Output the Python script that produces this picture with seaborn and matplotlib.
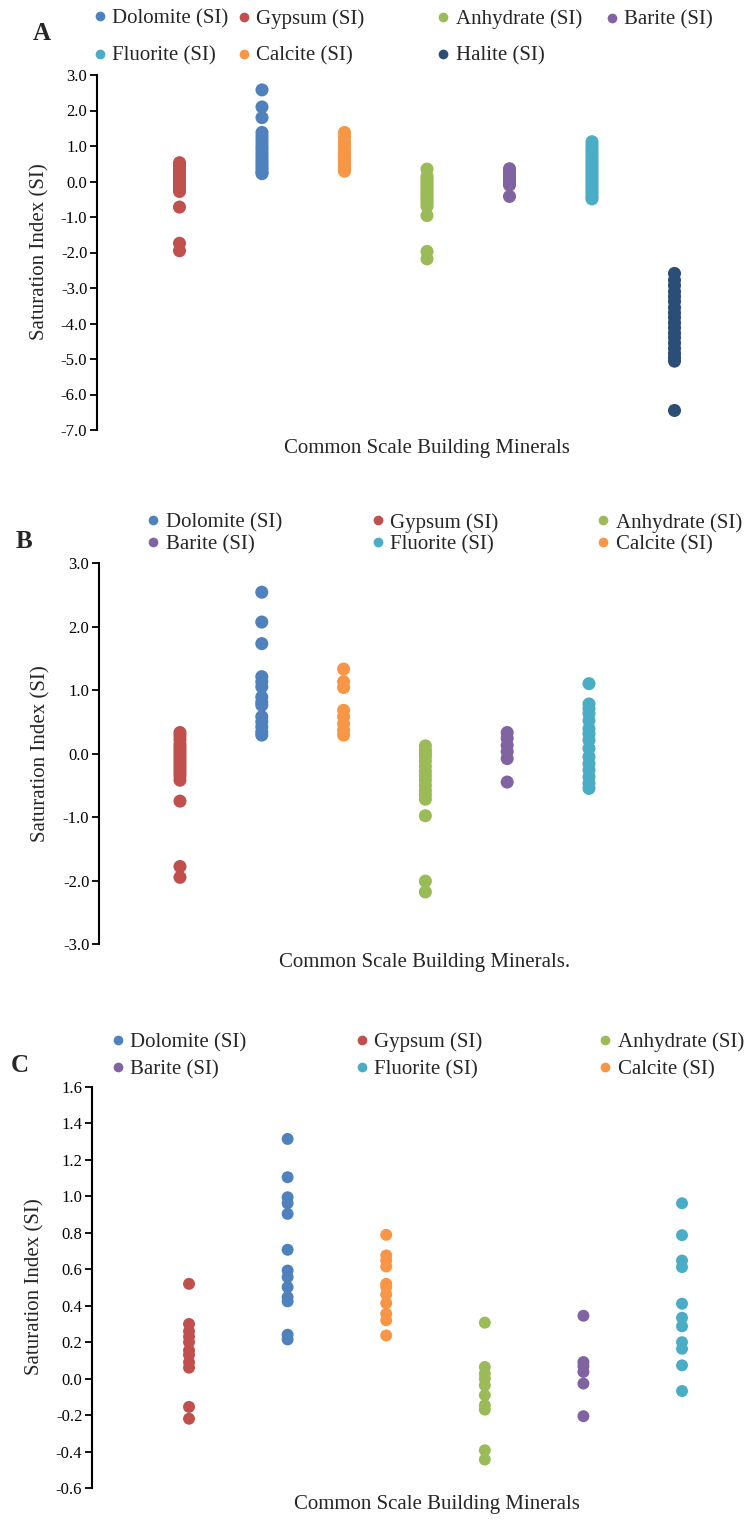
import numpy as np
import pandas as pd
import seaborn as sns
import matplotlib.pyplot as plt
from matplotlib.lines import Line2D
from matplotlib.ticker import FormatStrFormatter

sns.set_theme(style="ticks")
plt.rcParams['font.family'] = ['Liberation Serif', 'DejaVu Serif']
plt.rcParams['axes.unicode_minus'] = False

W, H = 750, 1520
DPI = 100

colors = {
    "Dolomite": "#4F81BD",
    "Gypsum": "#C0504D",
    "Anhydrate": "#9BBB59",
    "Barite": "#8064A2",
    "Fluorite": "#4BACC6",
    "Calcite": "#F79646",
    "Halite": "#2C4D75",
}

# x-axis order of the minerals
order_a = ["Gypsum", "Dolomite", "Calcite", "Anhydrate", "Barite", "Fluorite", "Halite"]
order_bc = ["Gypsum", "Dolomite", "Calcite", "Anhydrate", "Barite", "Fluorite"]

# ---- Panel A: saturation indices ----
a_gypsum = [0.53, 0.46, 0.40, 0.33, 0.27, 0.20, 0.14, 0.08, 0.02, -0.04, -0.10,
            -0.16, -0.22, -0.28, -0.72, -1.74, -1.95]
a_dolomite = [2.58, 2.10, 1.80, 1.38, 1.28, 1.18, 1.08, 0.98, 0.90, 0.80, 0.72,
              0.63, 0.55, 0.47, 0.40, 0.33, 0.26, 0.22]
a_calcite = [1.38, 1.25, 1.12, 1.02, 0.90, 0.80, 0.70, 0.62, 0.55, 0.48, 0.41,
             0.35, 0.29]
a_anhydrate = [0.35, 0.15, 0.08, 0.01, -0.06, -0.13, -0.20, -0.27, -0.34, -0.41,
               -0.48, -0.55, -0.62, -0.70, -0.96, -1.97, -2.18]
a_barite = [0.36, 0.28, 0.20, 0.12, 0.04, -0.04, -0.10, -0.42]
a_fluorite = [1.12, 1.02, 0.93, 0.85, 0.76, 0.68, 0.60, 0.52, 0.44, 0.36, 0.28,
              0.20, 0.12, 0.04, -0.04, -0.12, -0.20, -0.28, -0.36, -0.44, -0.49]
a_halite = [-2.59, -2.78, -2.93, -3.10, -3.24, -3.38, -3.55, -3.70, -3.83, -3.98,
            -4.12, -4.27, -4.40, -4.55, -4.70, -4.84, -4.96, -5.06, -6.45]

# ---- Panel B ----
b_gypsum = [0.33, 0.28, 0.22, 0.15, 0.10, 0.05, 0.0, -0.05, -0.10, -0.15, -0.20,
            -0.25, -0.30, -0.35, -0.42, -0.75, -1.78, -1.95]
b_dolomite = [2.54, 2.07, 1.73, 1.21, 1.13, 1.05, 0.89, 0.81, 0.76, 0.58, 0.50,
              0.42, 0.34, 0.29]
b_calcite = [1.33, 1.13, 1.04, 0.68, 0.58, 0.47, 0.37, 0.29]
b_anhydrate = [0.12, 0.05, 0.0, -0.05, -0.12, -0.20, -0.28, -0.35, -0.42, -0.50,
               -0.58, -0.65, -0.72, -0.98, -2.01, -2.18]
b_barite = [0.33, 0.24, 0.13, 0.03, -0.08, -0.45]
b_fluorite = [1.10, 0.78, 0.71, 0.63, 0.52, 0.39, 0.31, 0.21, 0.08, -0.05, -0.16,
              -0.26, -0.37, -0.47, -0.55]

# ---- Panel C ----
c_gypsum = [0.52, 0.30, 0.26, 0.23, 0.20, 0.155, 0.13, 0.09, 0.06, -0.155, -0.22]
c_dolomite = [1.315, 1.105, 0.995, 0.962, 0.904, 0.707, 0.593, 0.557, 0.502,
              0.447, 0.424, 0.241, 0.215]
c_calcite = [0.789, 0.676, 0.648, 0.615, 0.52, 0.502, 0.462, 0.414, 0.356, 0.32,
             0.237]
c_anhydrate = [0.307, 0.064, 0.027, 0.0, -0.037, -0.091, -0.146, -0.17, -0.393,
               -0.444]
c_barite = [0.345, 0.091, 0.068, 0.037, -0.027, -0.206]
c_fluorite = [0.962, 0.787, 0.648, 0.612, 0.411, 0.334, 0.287, 0.20, 0.164,
              0.073, -0.068]

y_ticks_a = np.arange(-7, 3.01, 1.0)
y_ticks_b = np.arange(-3, 3.01, 1.0)
y_ticks_c = np.arange(-0.6, 1.61, 0.2)

fig = plt.figure(figsize=(W / DPI, H / DPI), dpi=DPI)


def fx(px):
    return px / W


def fy(py):
    return 1 - py / H


def long_frame(series):
    rows = [(name, v) for name, vals in series.items() for v in vals]
    return pd.DataFrame(rows, columns=["Mineral", "SI"])


def panel(rect_px, series, order, yticks, xlim, size):
    left, top, right, bottom = rect_px
    ax = fig.add_axes([fx(left), fy(bottom), fx(right - left), (bottom - top) / H])
    df = long_frame(series)
    sns.stripplot(data=df, x="Mineral", y="SI", hue="Mineral", order=order,
                  hue_order=order, palette=colors, jitter=False, size=size,
                  linewidth=0, legend=False, ax=ax)
    ax.set_xlim(*xlim)
    ax.set_ylim(yticks[0], yticks[-1])
    ax.set_yticks(yticks)
    ax.yaxis.set_major_formatter(FormatStrFormatter("%.1f"))
    ax.set_xticks([])
    ax.set_xlabel("")
    ax.set_ylabel("")
    for s in ["top", "right", "bottom"]:
        ax.spines[s].set_visible(False)
    ax.spines["left"].set_linewidth(1.5)
    ax.spines["left"].set_color("black")
    ax.tick_params(axis="y", direction="out", length=5, width=1.3, color="black",
                   labelsize=12, labelcolor="black", pad=2)
    ax.patch.set_alpha(0)
    return ax


def column_legend(names, marker_x, row_y, spacing):
    handles = [Line2D([], [], ls="none", marker="o", markersize=7,
                      markerfacecolor=colors[n], markeredgewidth=0) for n in names]
    labels = [f"{n} (SI)" for n in names]
    fs = 15
    fs_px = fs * DPI / 72
    x0 = marker_x - 0.3 * fs_px
    y0 = np.mean(row_y)
    leg = fig.legend(handles, labels, loc="center left",
                     bbox_to_anchor=(fx(x0), fy(y0)), frameon=False, fontsize=fs,
                     handlelength=0.6, handletextpad=0.3, borderpad=0,
                     borderaxespad=0, labelspacing=spacing)
    return leg


# Panel A
series_a = {"Gypsum": a_gypsum, "Dolomite": a_dolomite, "Calcite": a_calcite,
            "Anhydrate": a_anhydrate, "Barite": a_barite, "Fluorite": a_fluorite,
            "Halite": a_halite}
panel((97, 75, 750, 430), series_a, order_a, y_ticks_a,
      (-1.0, (750 - 97) / 82.5 - 1.0), 9.4)
column_legend(["Dolomite", "Fluorite"], 100, (19, 56), 0.84)
column_legend(["Gypsum", "Calcite"], 244, (19, 56), 0.84)
column_legend(["Anhydrate", "Halite"], 443, (19, 56), 0.84)
column_legend(["Barite"], 612, (20,), 0.84)
fig.text(fx(42), fy(33), "A", fontsize=18, fontweight="bold", ha="center", va="center")
fig.text(fx(40), fy(252), "Saturation Index (SI)", fontsize=15, rotation=90,
         ha="center", va="center")
fig.text(fx(427), fy(448), "Common Scale Building Minerals", fontsize=15,
         ha="center", va="center")

# Panel B
series_b = {"Gypsum": b_gypsum, "Dolomite": b_dolomite, "Calcite": b_calcite,
            "Anhydrate": b_anhydrate, "Barite": b_barite, "Fluorite": b_fluorite}
panel((99, 563, 750, 944), series_b, order_bc, y_ticks_b,
      (-0.99, (750 - 99) / 81.8 - 0.99), 9.4)
column_legend(["Dolomite", "Barite"], 153, (522, 545), 0.1)
column_legend(["Gypsum", "Fluorite"], 378, (522, 545), 0.1)
column_legend(["Anhydrate", "Calcite"], 603, (522, 545), 0.1)
fig.text(fx(24), fy(541), "B", fontsize=18, fontweight="bold", ha="center", va="center")
fig.text(fx(41), fy(754), "Saturation Index (SI)", fontsize=15, rotation=90,
         ha="center", va="center")
fig.text(fx(425), fy(963), "Common Scale Building Minerals.", fontsize=15,
         ha="center", va="center")

# Panel C
series_c = {"Gypsum": c_gypsum, "Dolomite": c_dolomite, "Calcite": c_calcite,
            "Anhydrate": c_anhydrate, "Barite": c_barite, "Fluorite": c_fluorite}
panel((92, 1087, 750, 1488), series_c, order_bc, y_ticks_c,
      (-0.984, (750 - 92) / 98.6 - 0.984), 8.6)
column_legend(["Dolomite", "Barite"], 118, (1043, 1069), 0.35)
column_legend(["Gypsum", "Fluorite"], 362, (1043, 1069), 0.35)
column_legend(["Anhydrate", "Calcite"], 605, (1043, 1069), 0.35)
fig.text(fx(20), fy(1066), "C", fontsize=18, fontweight="bold", ha="center", va="center")
fig.text(fx(35), fy(1287), "Saturation Index (SI)", fontsize=15, rotation=90,
         ha="center", va="center")
fig.text(fx(437), fy(1505), "Common Scale Building Minerals", fontsize=15,
         ha="center", va="center")

fig.savefig("out.png", dpi=DPI, facecolor="white")
